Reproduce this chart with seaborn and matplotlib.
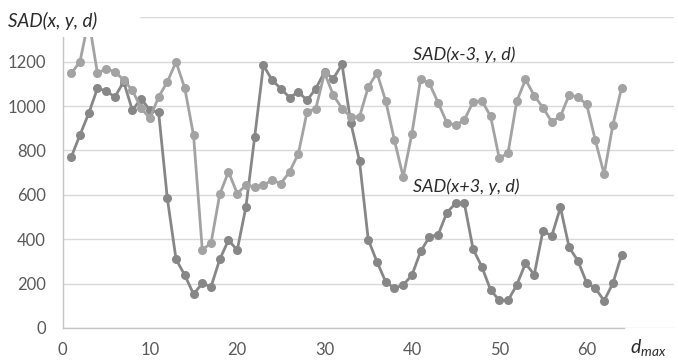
import matplotlib
matplotlib.use("Agg")
import matplotlib.pyplot as plt
from matplotlib.patches import Rectangle
import seaborn as sns
import pandas as pd

# ---- data ----
d_values = list(range(1, 65))
sad_plus3 = [770, 870, 967, 1080, 1068, 1041, 1110, 981, 1034, 981,
             973, 584, 309, 238, 153, 201, 186, 309, 396, 351,
             546, 861, 1184, 1116, 1079, 1038, 1064, 1026, 1079, 1154,
             1124, 1188, 925, 752, 398, 298, 208, 179, 194, 238,
             345, 411, 420, 520, 562, 562, 356, 276, 172, 124,
             124, 194, 291, 240, 438, 414, 543, 363, 303, 204,
             179, 123, 201, 329]
sad_minus3 = [1147, 1200, 1390, 1147, 1169, 1154, 1118, 1071, 990, 945,
              1041, 1109, 1199, 1080, 869, 353, 382, 602, 704, 606,
              644, 636, 644, 666, 651, 704, 786, 974, 989, 1150,
              1049, 989, 951, 951, 1086, 1149, 1023, 845, 681, 876,
              1124, 1102, 1015, 925, 914, 937, 1019, 1024, 955, 764,
              789, 1021, 1120, 1047, 993, 929, 954, 1050, 1040, 1008,
              845, 693, 914, 1083]
series_names = ["SAD(x+3, y, d)", "SAD(x-3, y, d)"]
x_ticks = [0, 10, 20, 30, 40, 50, 60]
y_ticks = [0, 200, 400, 600, 800, 1000, 1200, 1400]
y_ticklabels = ["0", "200", "400", "600", "800", "1000", "1200", ""]

df = pd.DataFrame({
    "d": d_values * 2,
    "SAD": sad_plus3 + sad_minus3,
    "series": [series_names[0]] * len(d_values) + [series_names[1]] * len(d_values),
})

sns.set_style("white")
plt.rcParams["font.family"] = ["Lato", "DejaVu Sans"]
plt.rcParams["mathtext.fontset"] = "custom"
plt.rcParams["mathtext.it"] = "Lato:italic"
plt.rcParams["mathtext.rm"] = "Lato"

W, H = 678, 361
fig = plt.figure(figsize=(W / 100, H / 100), dpi=100)
ax = fig.add_axes([62.5 / W, 33 / H, (674 - 62.5) / W, (328 - 17.3) / H])

palette = {series_names[0]: "#878787", series_names[1]: "#a3a3a3"}
sns.lineplot(data=df, x="d", y="SAD", hue="series", palette=palette,
             marker="o", markersize=6.5, linewidth=2, markeredgewidth=0,
             legend=False, ax=ax)

ax.set_xlim(0, 70)
ax.set_ylim(0, 1400)
ax.set_xticks(x_ticks)
ax.set_yticks(y_ticks)
ax.set_yticklabels(y_ticklabels)
ax.set_xlabel("")
ax.set_ylabel("")
ax.yaxis.grid(True, color="#d9d9d9", linewidth=1)
ax.xaxis.grid(False)
ax.set_axisbelow(True)
for s in ["top", "right"]:
    ax.spines[s].set_visible(False)
for s in ["left", "bottom"]:
    ax.spines[s].set_color("#c4c4c4")
    ax.spines[s].set_linewidth(1)
ax.spines["bottom"].set_bounds(0, 64.3)
ax.tick_params(length=0, labelsize=12, labelcolor="#5a5a5a")
ax.tick_params(axis="y", pad=12)
ax.tick_params(axis="x", pad=10)

# title box (white background covering top-left)
fig.add_artist(Rectangle((0, 1 - 37 / H), 140 / W, 37 / H, transform=fig.transFigure,
                         facecolor="white", edgecolor="none", zorder=5))
fig.text(8 / W, 1 - 21 / H, "SAD(x, y, d)", fontsize=13.5, style="italic",
         color="#2b2b2b", ha="left", va="center", zorder=6)

fig.text(413 / W, 1 - 55 / H, "SAD(x-3, y, d)", fontsize=13, style="italic",
         color="#2b2b2b", ha="left", va="center", zorder=6)
fig.text(413 / W, 1 - 187 / H, "SAD(x+3, y, d)", fontsize=13, style="italic",
         color="#2b2b2b", ha="left", va="center", zorder=6)
fig.text(630 / W, 1 - 347 / H, r"$d_{max}$", fontsize=14, color="#2b2b2b",
         ha="left", va="center", zorder=6)

fig.savefig("out.png", dpi=100, facecolor="white")
